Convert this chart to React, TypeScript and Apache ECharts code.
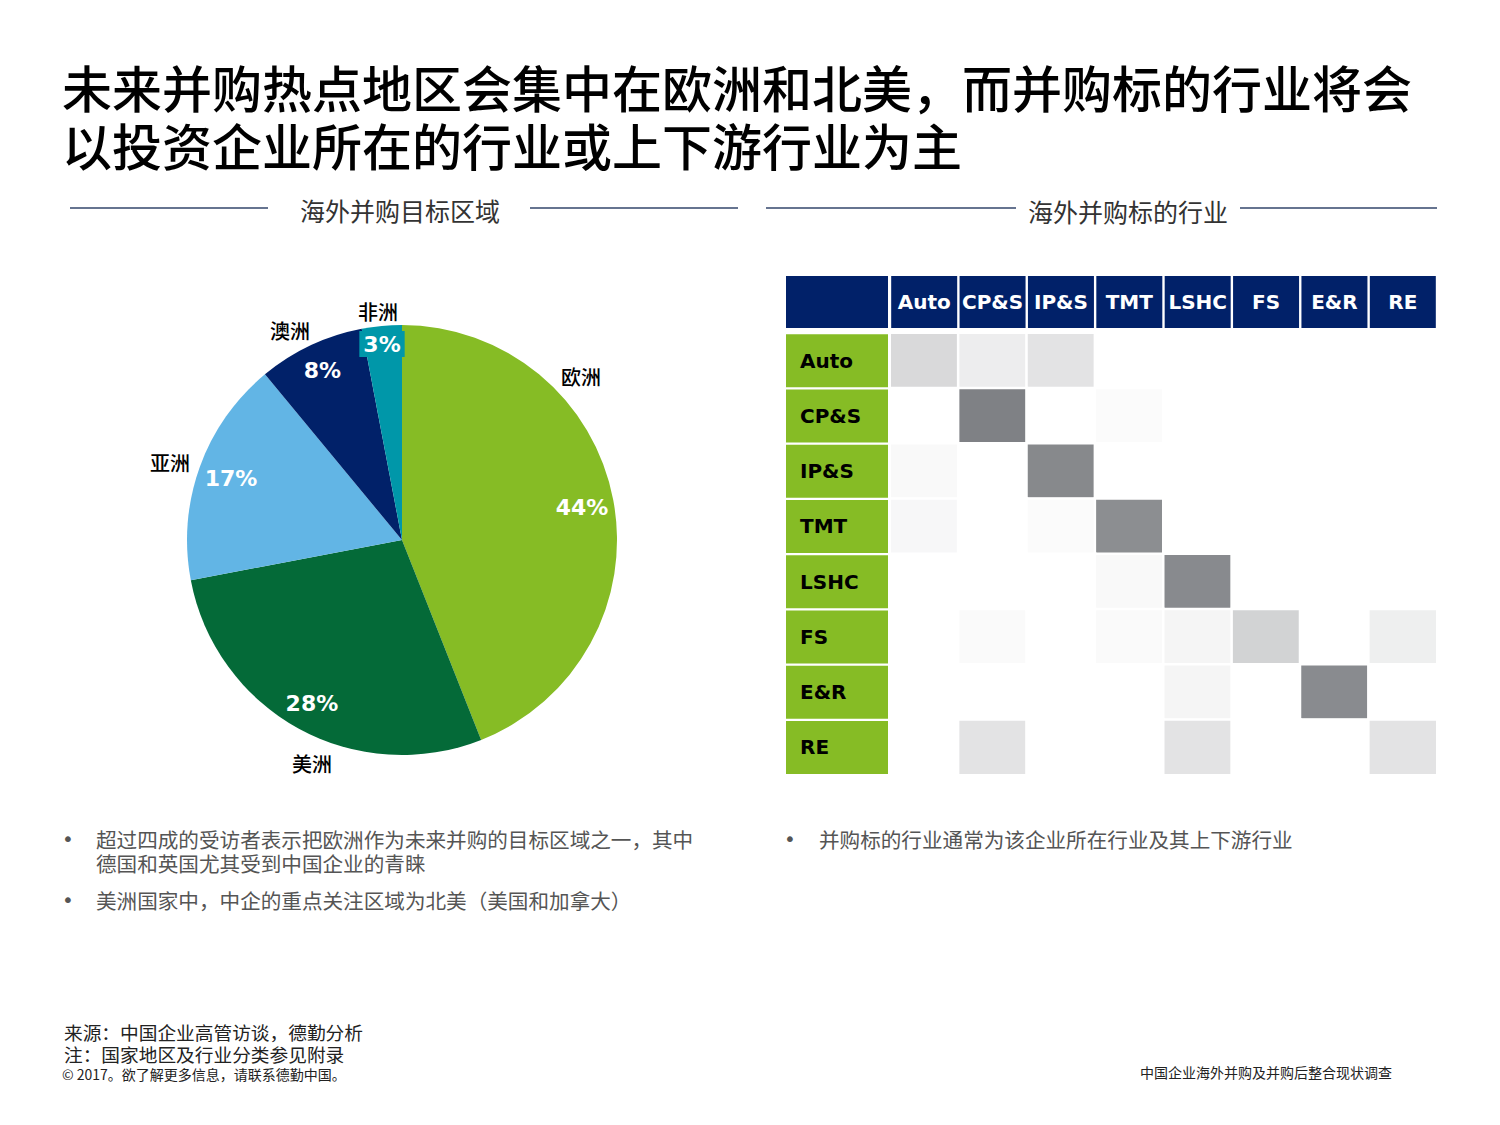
import React, { useEffect, useRef } from "react";
import * as echarts from "echarts";

// ---- Data ----
const regions = ["欧洲", "美洲", "亚洲", "澳洲", "非洲"];
const regionShares = [44, 28, 17, 8, 3];
const regionColors = ["#86BC25", "#046A38", "#62B5E5", "#012169", "#0097A9"];

const industries = ["Auto", "CP&S", "IP&S", "TMT", "LSHC", "FS", "E&R", "RE"];
// intensity 0-100 (row = acquirer industry, column = target industry)
const rowAuto = [30, 14, 22, 0, 0, 0, 0, 0];
const rowCPS = [0, 100, 0, 3, 0, 0, 0, 0];
const rowIPS = [5, 0, 94, 0, 0, 0, 0, 0];
const rowTMT = [6, 0, 3, 90, 0, 0, 0, 0];
const rowLSHC = [0, 0, 0, 5, 93, 0, 0, 0];
const rowFS = [0, 4, 0, 4, 8, 35, 0, 13];
const rowER = [0, 0, 0, 0, 8, 0, 92, 0];
const rowRE = [0, 22, 0, 0, 22, 0, 0, 22];
const matrix = [rowAuto, rowCPS, rowIPS, rowTMT, rowLSHC, rowFS, rowER, rowRE];

const titleLines = [
  "未来并购热点地区会集中在欧洲和北美，而并购标的行业将会",
  "以投资企业所在的行业或上下游行业为主",
];
const leftHeading = "海外并购目标区域";
const rightHeading = "海外并购标的行业";
const leftBullets = [
  ["超过四成的受访者表示把欧洲作为未来并购的目标区域之一，其中", "德国和英国尤其受到中国企业的青睐"],
  ["美洲国家中，中企的重点关注区域为北美（美国和加拿大）"],
];
const rightBullets = [["并购标的行业通常为该企业所在行业及其上下游行业"]];
const notes = ["来源：中国企业高管访谈，德勤分析", "注：国家地区及行业分类参见附录"];
const copyright = "© 2017。欲了解更多信息，请联系德勤中国。";
const footer = "中国企业海外并购及并购后整合现状调查";

const CJK = '"Noto Sans CJK SC", "Noto Sans", sans-serif';
const LATIN = '"DejaVu Sans", Verdana, sans-serif';

export default function App() {
  const ref = useRef<HTMLDivElement>(null);
  useEffect(() => {
    document.body.style.margin = "0";
    if (!ref.current) return;
    const chart = echarts.init(ref.current, null, { renderer: "svg" });

    const heatData: any[] = [];
    matrix.forEach((row, r) => row.forEach((v, c) => heatData.push([c, r, v])));

    const pieData = regions.map((name, i) => ({
      name,
      value: regionShares[i],
      itemStyle: { color: regionColors[i] },
    }));

    const graphics: any[] = [];
    graphics.push({
      type: "text",
      x: 62,
      y: 86 - 29,
      style: {
        text: titleLines.join("\n"),
        fill: "#000",
        fontSize: 50,
        lineHeight: 58,
        fontWeight: 500,
        fontFamily: CJK,
        verticalAlign: "top",
      },
    });
    const lineColor = "#33466B";
    const hLine = (x1: number, x2: number) => ({
      type: "line",
      shape: { x1, y1: 208, x2, y2: 208 },
      style: { stroke: lineColor, lineWidth: 1.5 },
    });
    graphics.push(hLine(70, 268), hLine(530, 738), hLine(766, 1016), hLine(1240, 1437));
    graphics.push({
      type: "text",
      x: 400,
      y: 210,
      style: { text: leftHeading, fill: "#333", fontSize: 25, fontFamily: CJK, align: "center", verticalAlign: "middle" },
    });
    graphics.push({
      type: "text",
      x: 1128,
      y: 211,
      style: { text: rightHeading, fill: "#333", fontSize: 25, fontFamily: CJK, align: "center", verticalAlign: "middle" },
    });
    // blank header cell of table
    graphics.push({ type: "rect", shape: { x: 786, y: 276, width: 102, height: 52 }, style: { fill: "#012169" } });

    const addBullets = (items: string[][], bx: number, tx: number, y0: number) => {
      let y = y0;
      items.forEach((lines) => {
        graphics.push({
          type: "text",
          x: bx,
          y,
          style: { text: "•", fill: "#555", fontSize: 20, lineHeight: 20, fontFamily: LATIN, verticalAlign: "middle" },
        });
        graphics.push({
          type: "text",
          x: tx,
          y: y - 12,
          style: {
            text: lines.join("\n"),
            fill: "#555",
            fontSize: 20.6,
            lineHeight: 24,
            fontFamily: CJK,
            verticalAlign: "top",
          },
        });
        y += 24 * lines.length + 13;
      });
    };
    addBullets(leftBullets, 62, 96, 839);
    addBullets(rightBullets, 784, 819, 839);

    graphics.push({
      type: "text",
      x: 64,
      y: 1031 - 11,
      style: {
        text: notes.join("\n"),
        fill: "#222",
        fontSize: 18.7,
        lineHeight: 22,
        fontFamily: CJK,
        verticalAlign: "top",
      },
    });
    graphics.push({
      type: "text",
      x: 62,
      y: 1074,
      style: { text: copyright, fill: "#222", fontSize: 14, lineHeight: 14, fontFamily: CJK, verticalAlign: "middle" },
    });
    graphics.push({
      type: "text",
      x: 1140,
      y: 1072,
      style: { text: footer, fill: "#222", fontSize: 14, lineHeight: 14, fontFamily: CJK, verticalAlign: "middle" },
    });

    const option: any = {
      animation: false,
      backgroundColor: "#fff",
      graphic: graphics,
      grid: { left: 890, top: 333, width: 547, height: 442 },
      xAxis: {
        type: "category",
        data: industries,
        position: "top",
        axisLine: { show: false },
        axisTick: { show: false },
        splitLine: { show: false },
        axisLabel: {
          margin: 5,
          interval: 0,
          color: "#fff",
          fontWeight: "bold",
          fontSize: 20,
          fontFamily: LATIN,
          backgroundColor: "#012169",
          width: 66,
          height: 52,
          lineHeight: 52,
          align: "center",
        },
      },
      yAxis: {
        type: "category",
        data: industries,
        inverse: true,
        axisLine: { show: false },
        axisTick: { show: false },
        splitLine: { show: false },
        axisLabel: {
          interval: 0,
          align: "left",
          margin: 104,
          padding: [0, 0, 0, 14],
          width: 88,
          height: 53,
          lineHeight: 53,
          backgroundColor: "#86BC25",
          color: "#000",
          fontWeight: "bold",
          fontSize: 20,
          fontFamily: LATIN,
        },
      },
      visualMap: {
        show: false,
        min: 0,
        max: 100,
        seriesIndex: 0,
        inRange: { color: ["#FFFFFF", "#7F8185"] },
      },
      series: [
        {
          type: "heatmap",
          data: heatData,
          itemStyle: { borderColor: "#fff", borderWidth: 2.5 },
          emphasis: { disabled: true },
          silent: true,
        },
        {
          type: "pie",
          center: [402, 540],
          radius: [0, 215],
          startAngle: 90,
          clockwise: true,
          avoidLabelOverlap: false,
          silent: true,
          label: { show: false },
          labelLine: { show: false },
          data: pieData,
        },
        {
          type: "pie",
          center: [402, 540],
          radius: [153, 215],
          startAngle: 90,
          clockwise: true,
          avoidLabelOverlap: false,
          silent: true,
          itemStyle: { color: "rgba(0,0,0,0)" },
          labelLine: { show: false },
          label: {
            show: true,
            position: "inside",
            formatter: "{c}%",
            color: "#fff",
            fontWeight: "bold",
            fontSize: 22,
            fontFamily: LATIN,
          },
          data: regions.map((name, i) => ({
            name,
            value: regionShares[i],
            label:
              i === regions.length - 1
                ? { backgroundColor: regionColors[i], padding: [3, 4, 1, 4] }
                : {},
          })),
          labelLayout: (p: any) => {
            if (p.dataIndex === 0) return { x: 582, y: 507 };
            if (p.dataIndex === 2) return { x: 231, y: 478 };
            if (p.dataIndex === 4) return { x: 382, y: 344, align: "center", verticalAlign: "middle" };
            return {};
          },
        },
        {
          type: "pie",
          center: [402, 540],
          radius: [215, 255],
          startAngle: 90,
          clockwise: true,
          avoidLabelOverlap: false,
          silent: true,
          itemStyle: { color: "rgba(0,0,0,0)" },
          labelLine: { show: false },
          label: {
            show: true,
            position: "inside",
            formatter: "{b}",
            color: "#000",
            fontSize: 20,
            fontWeight: 500,
            fontFamily: CJK,
          },
          labelLayout: (p: any) => {
            if (p.dataIndex === 0) return { x: 581, y: 376 };
            if (p.dataIndex === 1) return { x: 312, y: 763 };
            if (p.dataIndex === 2) return { x: 170, y: 462 };
            if (p.dataIndex === 3) return { x: 290, y: 330 };
            if (p.dataIndex === 4) return { x: 378, y: 311 };
            return {};
          },
          data: regions.map((name, i) => ({ name, value: regionShares[i] })),
        },
      ],
    };
    chart.setOption(option);
    return () => chart.dispose();
  }, []);
  return <div ref={ref} style={{ width: 1500, height: 1125 }} />;
}
